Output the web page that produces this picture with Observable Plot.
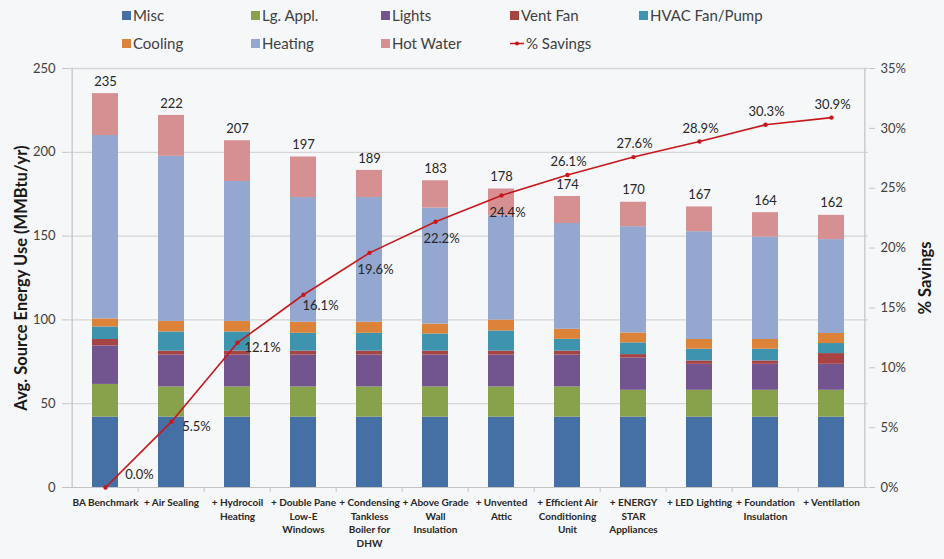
<!DOCTYPE html>
<html><head><meta charset="utf-8">
<script src="https://cdn.jsdelivr.net/npm/d3@7"></script>
<script src="https://cdn.jsdelivr.net/npm/@observablehq/plot@0.6"></script>
<style>
body{margin:0;background:#f6f7f9;font-family:Lato,"Open Sans",sans-serif;}
#wrap{position:relative;width:944px;height:559px;overflow:hidden;background:#f6f7f9;}
#legend{position:absolute;left:0;top:0;width:944px;height:57px;}
.item{position:absolute;display:flex;align-items:center;font-size:15px;color:#404040;height:20px;white-space:nowrap;}
.sw{width:9px;height:9px;margin-right:2px;}
.ln{position:relative;width:14px;height:9px;margin-right:2px;}
#chart{position:absolute;left:0;top:57px;}
</style>
</head><body>
<div id="wrap"><div id="legend"></div><div id="chart"></div></div>
<script>
const categories = ["BA Benchmark","+ Air Sealing","+ Hydrocoil\nHeating","+ Double Pane\nLow-E\nWindows","+ Condensing\nTankless\nBoiler for\nDHW","+ Above Grade\nWall\nInsulation","+ Unvented\nAttic","+ Efficient Air\nConditioning\nUnit","+ ENERGY\nSTAR\nAppliances","+ LED Lighting","+ Foundation\nInsulation","+ Ventilation"];
const series = ["Misc","Lg. Appl.","Lights","Vent Fan","HVAC Fan/Pump","Cooling","Heating","Hot Water"];
const seriesColors = ["#4470a6","#88a24c","#72558f","#a84343","#3e94ae","#dd8339","#93a7d0","#d69092"];
const misc     = [42,42,42,42,42,42,42,42,42,42,42,42];
const lgAppl   = [19.5,18,18,18,18,18,18,18,16,16,16,16];
const lights   = [23,19,19,19,19,19,19,19,19.3,15.5,15.5,15.5];
const ventFan  = [3.8,2.4,2.4,2.4,2.4,2.4,2.4,2.4,2,2,2,6.4];
const hvac     = [7.5,11.4,11.4,10.6,10.6,10.2,12,7,7,7,7,6];
const cooling  = [4.8,6.3,6.3,6.6,6.6,5.9,6.5,6,5.9,5.8,5.8,6];
const heating  = [109.4,98.5,83.5,74.4,74.4,69.2,62.2,63.1,63.4,64.3,61.1,56];
const hotWater = [25,24.4,24.3,24.2,16.2,16.3,16,16.1,14.6,14.8,14.6,14.5];
const totalLabels = ["235","222","207","197","189","183","178","174","170","167","164","162"];
const savings  = [0.0,5.5,12.1,16.1,19.6,22.2,24.4,26.1,27.6,28.9,30.3,30.9];
const leftTicks = [0,50,100,150,200,250];
const rightTicks = [0,5,10,15,20,25,30,35];
const savingsColor = "#c8171b";

// Legend
const legendItems = [
  ["Misc",0,0],["Lg. Appl.",1,0],["Lights",2,0],["Vent Fan",3,0],["HVAC Fan/Pump",4,0],
  ["Cooling",0,1],["Heating",1,1],["Hot Water",2,1],["% Savings",3,1]
];
const colX = [122,251,381,510,639], rowY = [15,43];
const leg = document.getElementById("legend");
legendItems.forEach(([name,c,r]) => {
  const d = document.createElement("div");
  d.className = "item";
  d.style.left = colX[c] + "px";
  d.style.top = (rowY[r] - 10) + "px";
  if (name === "% Savings") {
    d.innerHTML = `<svg class="ln" width="14" height="9"><line x1="0" y1="4.5" x2="14" y2="4.5" stroke="${savingsColor}" stroke-width="1.5"/><circle cx="7" cy="4.5" r="2" fill="${savingsColor}"/></svg><span>${name}</span>`;
  } else {
    const col = seriesColors[series.indexOf(name)];
    d.innerHTML = `<span class="sw" style="background:${col}"></span><span>${name}</span>`;
  }
  leg.appendChild(d);
});

// Data
const valueArrays = [misc,lgAppl,lights,ventFan,hvac,cooling,heating,hotWater];
const rows = [];
series.forEach((s,k) => categories.forEach((c,i) => rows.push({category:c, series:s, value:valueArrays[k][i]})));
const totals = categories.map((c,i) => d3.sum(valueArrays, a => a[i]));
const K = 250/35;
const sav = categories.map((c,i) => ({category:c, s:savings[i], i}));
const fmt = d => d3.format(".1f")(d) + "%";
const W = 944, ML = 68, MR = 76;
const step = (W - ML - MR) / categories.length;

const labelGroups = [
  {f: d => d.i === 0, dx: 34, dy: -13},
  {f: d => d.i >= 1 && d.i <= 2, dx: 25, dy: 5},
  {f: d => d.i === 3, dx: 17, dy: 11},
  {f: d => d.i >= 4 && d.i <= 6, dx: 6, dy: 17},
  {f: d => d.i >= 7, dx: 1, dy: -13}
];

const plot = Plot.plot({
  width: W, height: 502, marginTop: 11, marginBottom: 72, marginLeft: ML, marginRight: MR,
  style: {background: "transparent", fontFamily: "Lato, 'Open Sans', sans-serif", overflow: "visible"},
  x: {domain: categories, paddingInner: 0.6, paddingOuter: 0.3, axis: null},
  y: {domain: [0, 250], axis: null},
  color: {domain: series, range: seriesColors},
  marks: [
    Plot.ruleY([50,100,150,200,250], {stroke: "#d6d6d6", strokeWidth: 1.3}),
    Plot.barY(rows, {x: "category", y: "value", fill: "series"}),
    Plot.ruleY([0], {stroke: "#c4c4c4", strokeWidth: 1.2}),
    Plot.ruleX([categories[0]], {dx: -step/2, y1: 0, y2: 250, stroke: "#c4c4c4", strokeWidth: 1.2}),
    Plot.ruleX([categories[categories.length-1]], {dx: step/2, y1: 0, y2: 250, stroke: "#c4c4c4", strokeWidth: 1.2}),
    Plot.ruleX(categories.slice(1), {dx: -step/2, y1: 0, y2: -3, stroke: "#c4c4c4"}),
    Plot.axisY(leftTicks, {anchor: "left", tickSize: 6, tickPadding: 7, fontSize: 13, color: "#404040", stroke: "#c4c4c4", label: null}),
    Plot.axisY(rightTicks.map(t => t*K), {anchor: "right", tickSize: 6, tickPadding: 6, fontSize: 13, color: "#404040", stroke: "#c4c4c4", tickFormat: d => Math.round(d/K) + "%", label: null}),
    Plot.text(categories, {x: d => d, y: 0, text: d => d, lineAnchor: "top", dy: 9, fontSize: 10, fontWeight: "bold", lineHeight: 1.35, fill: "#262626"}),
    Plot.text(categories, {x: d => d, y: (d,i) => totals[i], text: (d,i) => totalLabels[i], dy: -12, fontSize: 13, fill: "#262626"}),
    Plot.line(sav, {x: "category", y: d => d.s*K, stroke: savingsColor, strokeWidth: 1.6}),
    Plot.dot(sav, {x: "category", y: d => d.s*K, r: 2.2, fill: savingsColor}),
    ...labelGroups.map(g => Plot.text(sav, {filter: g.f, x: "category", y: d => d.s*K, text: d => fmt(d.s), dx: g.dx, dy: g.dy, fontSize: 13, fill: "#262626"})),
    Plot.text(["Avg. Source Energy Use (MMBtu/yr)"], {frameAnchor: "left", textAnchor: "middle", dx: -47, rotate: -90, fontSize: 16.5, fontWeight: "bold", fill: "#1a1a1a"}),
    Plot.text(["% Savings"], {frameAnchor: "right", textAnchor: "middle", dx: 57, rotate: -90, fontSize: 16.5, fontWeight: "bold", fill: "#1a1a1a"})
  ]
});
document.getElementById("chart").appendChild(plot);
</script>
</body></html>
